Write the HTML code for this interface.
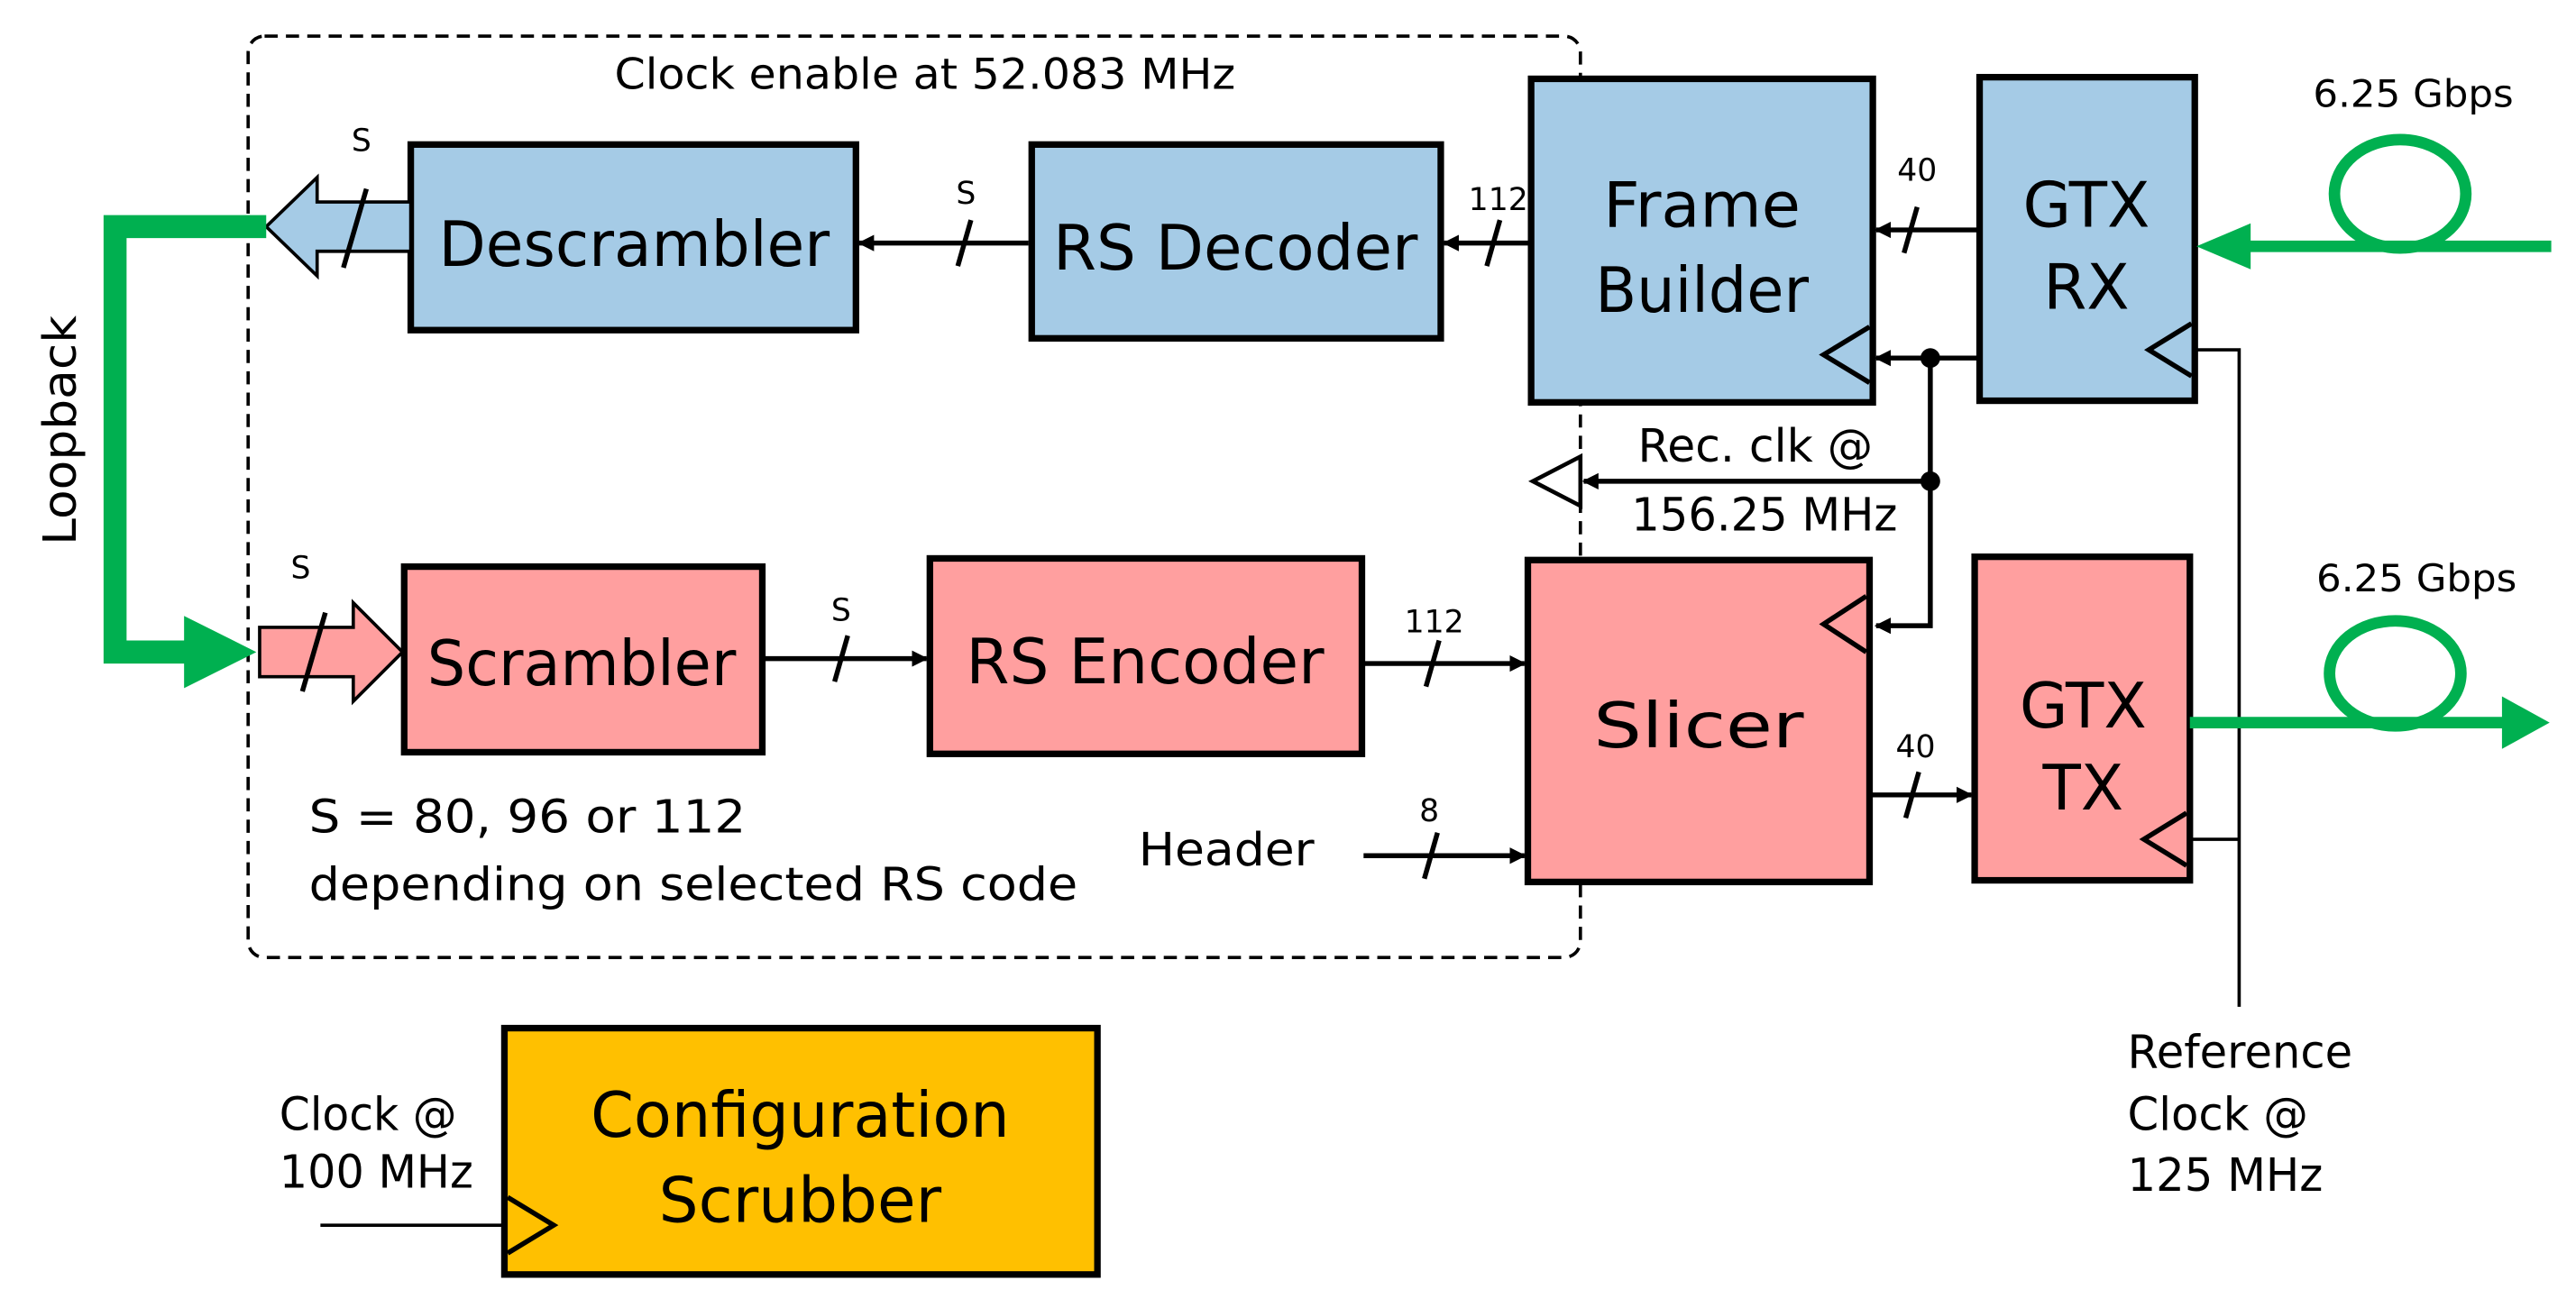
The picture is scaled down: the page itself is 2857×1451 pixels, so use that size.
<!DOCTYPE html>
<html><head><meta charset="utf-8"><style>html,body{margin:0;padding:0;background:#fff}svg{display:block}</style></head>
<body>
<svg width="2857" height="1451" viewBox="0 0 1568 796.4" xmlns="http://www.w3.org/2000/svg" font-family="'DejaVu Sans','Liberation Sans',sans-serif">
<defs>
<marker id="ar" markerWidth="10" markerHeight="10" refX="9" refY="5" orient="auto" markerUnits="userSpaceOnUse"><path d="M0,0 L10,5 L0,10 z" fill="#000"/></marker>
</defs>
<rect x="151" y="22" width="811" height="561" rx="10" fill="none" stroke="#000" stroke-width="2" stroke-dasharray="8,5"/>
<text x="374" y="54" font-size="26" textLength="378" lengthAdjust="spacingAndGlyphs">Clock enable at 52.083 MHz</text>

<g stroke="#000" stroke-width="4" fill="#a5cbe6">
<rect x="250" y="88" width="271" height="113"/>
<rect x="628" y="88" width="249" height="118"/>
<rect x="932" y="48" width="208" height="197"/>
<rect x="1205" y="47" width="131" height="197"/>
</g>
<g stroke="#000" stroke-width="4" fill="#ff9f9f">
<rect x="246" y="345" width="218" height="113"/>
<rect x="566" y="340" width="263" height="119"/>
<rect x="930" y="341" width="208" height="196"/>
<rect x="1202" y="339" width="131" height="197"/>
</g>
<rect x="307" y="626" width="361" height="150" fill="#ffc000" stroke="#000" stroke-width="4"/>

<g font-size="38" text-anchor="middle">
<text x="386" y="162" textLength="238" lengthAdjust="spacingAndGlyphs">Descrambler</text>
<text x="752" y="164" textLength="222" lengthAdjust="spacingAndGlyphs">RS Decoder</text>
<text x="1036" y="138" textLength="120" lengthAdjust="spacingAndGlyphs">Frame</text>
<text x="1036" y="190" textLength="130" lengthAdjust="spacingAndGlyphs">Builder</text>
<text x="1270" y="138">GTX</text>
<text x="1270" y="188">RX</text>
<text x="354" y="417" textLength="188" lengthAdjust="spacingAndGlyphs">Scrambler</text>
<text x="697" y="416" textLength="218" lengthAdjust="spacingAndGlyphs">RS Encoder</text>
<text x="1034" y="455" textLength="128" lengthAdjust="spacingAndGlyphs">Slicer</text>
<text x="1268" y="443">GTX</text>
<text x="1268" y="493">TX</text>
<text x="487" y="692" textLength="255" lengthAdjust="spacingAndGlyphs">Configuration</text>
<text x="487" y="744" textLength="172" lengthAdjust="spacingAndGlyphs">Scrubber</text>
</g>

<g fill="none" stroke="#000" stroke-width="3">
<path d="M1138,199 L1110,216 L1138,233"/>
<path d="M1334,197 L1308,213 L1334,229"/>
<path d="M1136,363 L1110,380 L1136,397"/>
<path d="M1331,495 L1305,511 L1331,527"/>
<path d="M309,729 L337,746 L309,763"/>
<path d="M962,278 L933,293 L962,308 z" stroke-width="2.5"/>
</g>

<g stroke="#000" stroke-width="3" fill="none">
<line x1="1205" y1="140" x2="1142" y2="140" marker-end="url(#ar)"/>
<line x1="930" y1="148" x2="879" y2="148" marker-end="url(#ar)"/>
<line x1="626" y1="148" x2="523" y2="148" marker-end="url(#ar)"/>
<line x1="464" y1="401" x2="564" y2="401" marker-end="url(#ar)"/>
<line x1="829" y1="404" x2="928" y2="404" marker-end="url(#ar)"/>
<line x1="830" y1="521" x2="928" y2="521" marker-end="url(#ar)"/>
<line x1="1138" y1="484" x2="1200" y2="484" marker-end="url(#ar)"/>
<line x1="1205" y1="218" x2="1142" y2="218" marker-end="url(#ar)"/>
<polyline points="1175,218 1175,381 1142,381" marker-end="url(#ar)"/>
<line x1="1175" y1="293" x2="964" y2="293" marker-end="url(#ar)"/>
<line x1="195" y1="746" x2="307" y2="746" stroke-width="2"/>
</g>
<circle cx="1175" cy="218" r="6"/>
<circle cx="1175" cy="293" r="6"/>
<g stroke="#000" stroke-width="2" fill="none">
<polyline points="1336,213 1363,213 1363,613"/>
<line x1="1333" y1="511" x2="1363" y2="511"/>
</g>

<g stroke="#000" stroke-width="3">
<line x1="1167" y1="126" x2="1159" y2="154"/>
<line x1="913" y1="134" x2="905" y2="162"/>
<line x1="591" y1="134" x2="583" y2="162"/>
<line x1="516" y1="387" x2="508" y2="415"/>
<line x1="876" y1="390" x2="868" y2="418"/>
<line x1="875" y1="507" x2="867" y2="535"/>
<line x1="1168" y1="470" x2="1160" y2="498"/>
</g>
<g font-size="19" text-anchor="middle">
<text x="1167" y="110">40</text>
<text x="912" y="128">112</text>
<text x="588" y="124">S</text>
<text x="220" y="92">S</text>
<text x="512" y="378">S</text>
<text x="183" y="352">S</text>
<text x="873" y="385">112</text>
<text x="870" y="500">8</text>
<text x="1166" y="461">40</text>
</g>

<path d="M250,123 L193,123 L193,108 L162,138 L193,168 L193,153 L250,153 z" fill="#a5cbe6" stroke="#000" stroke-width="2"/>
<line x1="223" y1="115" x2="209" y2="163" stroke="#000" stroke-width="3"/>
<path d="M158,382 L215,382 L215,367 L245,397 L215,427 L215,412 L158,412 z" fill="#ff9f9f" stroke="#000" stroke-width="2"/>
<line x1="198" y1="373" x2="184" y2="421" stroke="#000" stroke-width="3"/>

<polyline points="162,138 70,138 70,397 118,397" fill="none" stroke="#00b050" stroke-width="14"/>
<path d="M112,375 L156,397 L112,419 z" fill="#00b050"/>
<text transform="translate(46,262) rotate(-90)" font-size="28" text-anchor="middle" textLength="140" lengthAdjust="spacingAndGlyphs">Loopback</text>

<line x1="1553" y1="150" x2="1362" y2="150" stroke="#00b050" stroke-width="7"/>
<path d="M1370,136 L1337,150 L1370,164 z" fill="#00b050"/>
<ellipse cx="1461" cy="118" rx="40" ry="33" fill="none" stroke="#00b050" stroke-width="7"/>
<line x1="1333" y1="440" x2="1525" y2="440" stroke="#00b050" stroke-width="7"/>
<path d="M1523,424 L1552,440 L1523,456 z" fill="#00b050"/>
<ellipse cx="1458" cy="410" rx="40" ry="32" fill="none" stroke="#00b050" stroke-width="7"/>

<g font-size="23">
<text x="1408" y="65" textLength="122" lengthAdjust="spacingAndGlyphs">6.25 Gbps</text>
<text x="1410" y="360" textLength="122" lengthAdjust="spacingAndGlyphs">6.25 Gbps</text>
</g>
<g font-size="28" lengthAdjust="spacingAndGlyphs">
<text x="188" y="507" textLength="266" lengthAdjust="spacingAndGlyphs">S = 80, 96 or 112</text>
<text x="188" y="548" textLength="468" lengthAdjust="spacingAndGlyphs">depending on selected RS code</text>
<text x="693" y="527" textLength="107" lengthAdjust="spacingAndGlyphs">Header</text>
<text x="997" y="281" textLength="143" lengthAdjust="spacingAndGlyphs">Rec. clk @</text>
<text x="993" y="323" textLength="162" lengthAdjust="spacingAndGlyphs">156.25 MHz</text>
<text x="1295" y="650" textLength="137" lengthAdjust="spacingAndGlyphs">Reference</text>
<text x="1295" y="688" textLength="110" lengthAdjust="spacingAndGlyphs">Clock @</text>
<text x="1295" y="725" textLength="119" lengthAdjust="spacingAndGlyphs">125 MHz</text>
<text x="170" y="688" textLength="108" lengthAdjust="spacingAndGlyphs">Clock @</text>
<text x="170" y="723" textLength="118" lengthAdjust="spacingAndGlyphs">100 MHz</text>
</g>
</svg>
</body></html>
